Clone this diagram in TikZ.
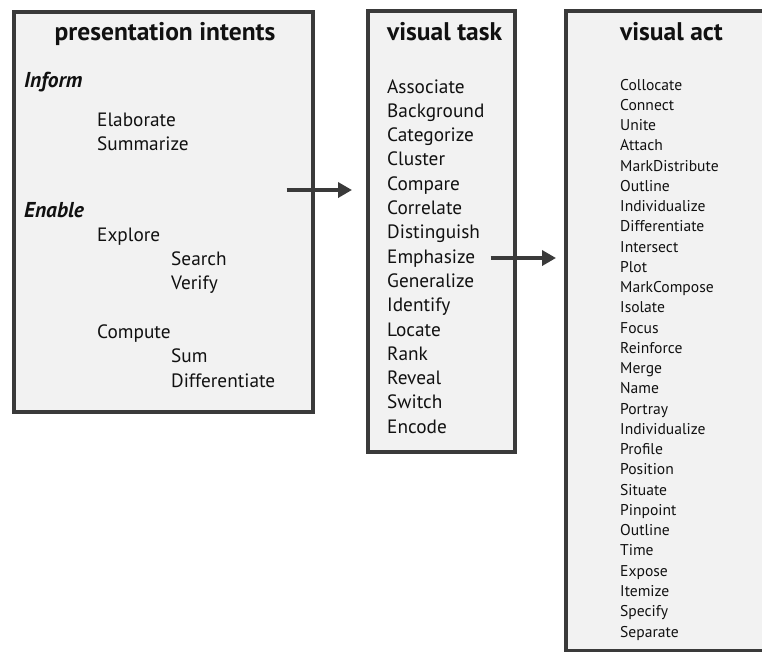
\documentclass[tikz,border=0pt]{standalone}
\usepackage{fontspec}
\setmainfont{PT Sans}
\usetikzlibrary{arrows.meta}
\definecolor{boxline}{HTML}{3A3A3A}
\definecolor{boxfill}{HTML}{F2F2F2}
\definecolor{ink}{HTML}{111111}
\begin{document}
\begin{tikzpicture}[x=1pt,y=-1pt,
  panel/.style={draw=boxline,fill=boxfill,line width=3.5pt,anchor=north west,inner sep=0pt},
  heading/.style={font=\fontsize{25.5}{25.5}\selectfont\bfseries,text=ink,inner sep=0pt},
  group/.style={font=\fontsize{21.5}{21.5}\selectfont\bfseries\itshape,text=ink,anchor=base west,inner sep=0pt},
  entry/.style={font=\fontsize{19.3}{19.3}\selectfont,text=ink,anchor=base west,inner sep=0pt},
  smallentry/.style={font=\fontsize{15.6}{15.6}\selectfont,text=ink,anchor=base west,inner sep=0pt},
  conn/.style={draw=boxline,line width=4pt,-{Triangle[length=14pt,width=15pt]}}]
\useasboundingbox (0,0) rectangle (762,651);
\fill[white] (0,0) rectangle (762,651);

% the three panels
\node[panel,minimum width=299pt,minimum height=400pt] (intents) at (12,10) {};
\node[panel,minimum width=147pt,minimum height=441pt] (task) at (366,9) {};
\node[panel,minimum width=230pt,minimum height=640pt] (act) at (564,9) {};

% panel headings
\node[heading,anchor=base] (hIntents) at (165,40) {presentation intents};
\node[heading,anchor=base west] (hTask) at (387,40) {visual task};
\node[heading,anchor=base west] (hAct) at (620,40) {visual act};

% presentation intents
\node[group] (inform) at (24,87) {Inform};
\node[entry] (elaborate) at (97,126) {Elaborate};
\node[entry] (summarize) at (97,150) {Summarize};
\node[group] (enable) at (24,217) {Enable};
\node[entry] (explore) at (97,241) {Explore};
\node[entry] (search) at (171,265) {Search};
\node[entry] (verify) at (171,289) {Verify};
\node[entry] (compute) at (97,338) {Compute};
\node[entry] (sum) at (171,362) {Sum};
\node[entry] (differentiate) at (171,387) {Differentiate};

% visual tasks
\foreach \t [count=\i from 0] in {Associate,Background,Categorize,Cluster,Compare,Correlate,Distinguish,Emphasize,Generalize,Identify,Locate,Rank,Reveal,Switch,Encode}
  \node[entry] (task-\i) at (387,93+24.3*\i) {\t};

% visual acts
\foreach \t [count=\i from 0] in {Collocate,Connect,Unite,Attach,MarkDistribute,Outline,Individualize,Differentiate,Intersect,Plot,MarkCompose,Isolate,Focus,Reinforce,Merge,Name,Portray,Individualize,Profile,Position,Situate,Pinpoint,Outline,Time,Expose,Itemize,Specify,Separate}
  \node[smallentry] (act-\i) at (620,90+20.26*\i) {\t};

% connectors
\coordinate (a1) at (0,190);
\draw[conn,shorten <=-28pt,shorten >=14pt] (intents.east |- a1) -- (task.west |- a1);
\coordinate (a2) at (0,258);
\draw[conn,shorten <=-26pt,shorten >=8pt] (task.east |- a2) -- (act.west |- a2);
\end{tikzpicture}
\end{document}
